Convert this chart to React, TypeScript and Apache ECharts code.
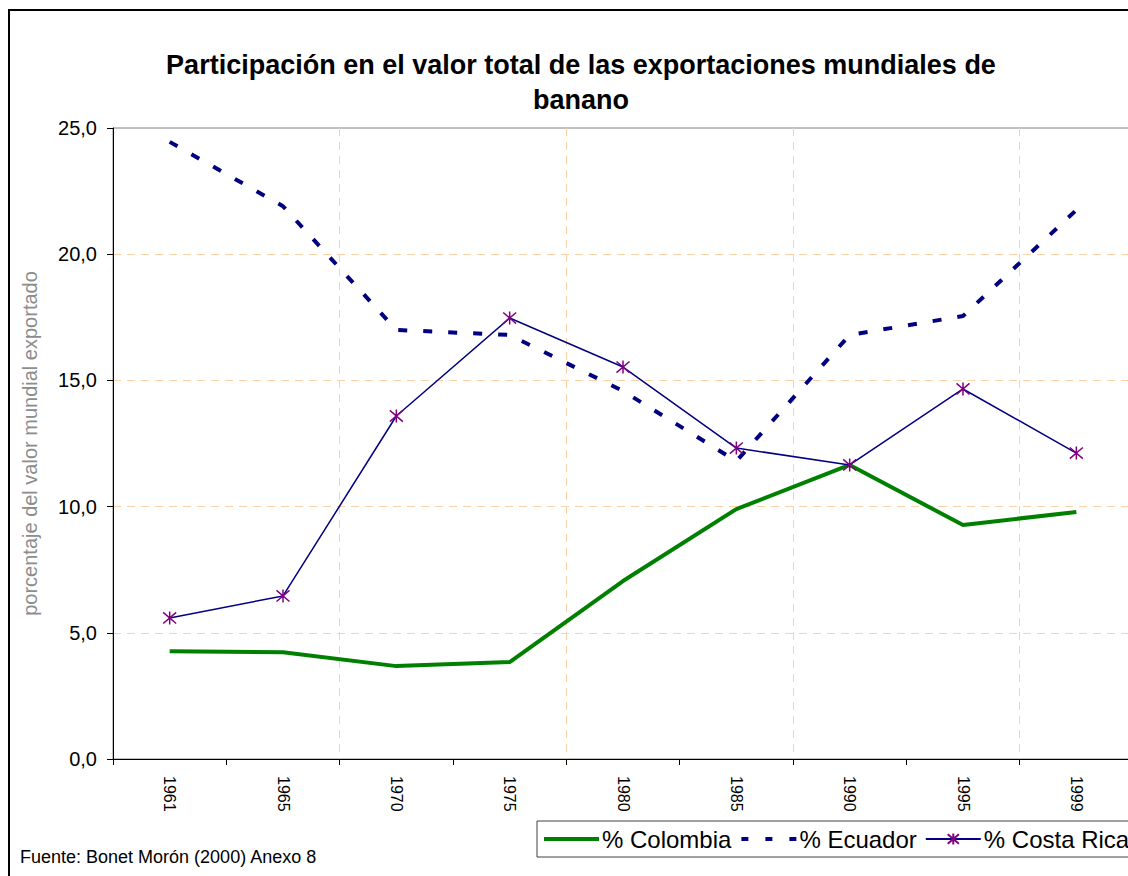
import React, { useEffect, useRef } from "react";
import * as echarts from "echarts";

const years = ["1961", "1965", "1970", "1975", "1980", "1985", "1990", "1995", "1999"];
const colombia = [4.27, 4.23, 3.68, 3.84, 7.05, 9.9, 11.65, 9.27, 9.79];
const ecuador = [24.45, 21.9, 17.0, 16.8, 14.58, 11.8, 16.8, 17.55, 21.75];
const costaRica = [5.59, 6.46, 13.59, 17.47, 15.53, 12.32, 11.65, 14.66, 12.12];
const yTicks = [0, 5, 10, 15, 20, 25];

const FONT = "Arial, 'Liberation Sans', Helvetica, sans-serif";
const STAR = "path://M0,-7L0,7M-6,-6L6,6M-6,6L6,-6";
const GRID_COLOR = "#FFD2A6";

export default function App() {
  const ref = useRef<HTMLDivElement>(null);
  useEffect(() => {
    if (!ref.current) return;
    const chart = echarts.init(ref.current, null, { renderer: "svg" });
    const hiddenSymbol = { color: "rgba(0,0,0,0)", borderWidth: 0, borderColor: "rgba(0,0,0,0)" };
    chart.setOption({
      animation: false,
      backgroundColor: "#ffffff",
      textStyle: { fontFamily: FONT },
      title: {
        text: "Participación en el valor total de las exportaciones mundiales de\nbanano",
        left: 576,
        textAlign: "center",
        top: 42,
        textStyle: { fontFamily: FONT, fontSize: 27, fontWeight: "bold", color: "#000", lineHeight: 35 },
      },
      graphic: [
        {
          type: "rect",
          shape: { x: 9, y: 10, width: 1300, height: 1000 },
          style: { fill: "none", stroke: "#000", lineWidth: 2 },
          silent: true,
        },
        {
          type: "text",
          left: 20,
          top: 848,
          style: { text: "Fuente: Bonet Morón (2000) Anexo 8", fontFamily: FONT, fontSize: 18, fill: "#000" },
        },
      ],
      legend: {
        left: 537,
        top: 821,
        orient: "horizontal",
        itemWidth: 55,
        itemHeight: 14,
        itemGap: 8,
        padding: [6, 4, 6, 5],
        borderColor: "#404040",
        borderWidth: 1,
        textStyle: { fontFamily: FONT, fontSize: 24, color: "#000", padding: [0, 0, 0, -2] },
        data: [
          { name: "% Colombia", itemStyle: hiddenSymbol, lineStyle: { width: 4, color: "#008000" } },
          { name: "% Ecuador", itemStyle: hiddenSymbol, lineStyle: { width: 4, color: "#000080", type: [7, 17] } },
          { name: "% Costa Rica" },
        ],
      },
      grid: {
        left: 113,
        top: 128,
        right: 17,
        bottom: 117,
        show: true,
        borderColor: "#808080",
        borderWidth: 1,
        containLabel: false,
      },
      xAxis: {
        type: "category",
        data: years,
        boundaryGap: true,
        axisLine: { lineStyle: { color: "#000", width: 1 } },
        axisTick: { show: true, interval: 0, length: 6, inside: false, lineStyle: { color: "#000" } },
        axisLabel: { interval: 0, rotate: -90, margin: 17, fontSize: 16, color: "#000", fontFamily: FONT },
        splitLine: { show: true, interval: 1, lineStyle: { color: GRID_COLOR, type: [8, 6], width: 1 } },
      },
      yAxis: {
        type: "value",
        min: yTicks[0],
        max: yTicks[yTicks.length - 1],
        interval: 5,
        name: "porcentaje del valor mundial exportado",
        nameLocation: "middle",
        nameRotate: 90,
        nameGap: 73,
        nameTextStyle: { fontFamily: FONT, fontSize: 20, color: "#8c8c8c" },
        axisLine: { show: true, lineStyle: { color: "#000", width: 1 } },
        axisTick: { show: true, length: 6, inside: false, lineStyle: { color: "#000" } },
        axisLabel: {
          margin: 16,
          fontSize: 20,
          color: "#000",
          fontFamily: FONT,
          formatter: (v: number) => v.toFixed(1).replace(".", ","),
        },
        splitLine: {
          show: true,
          lineStyle: {
            color: yTicks.map((_, i) => (i === yTicks.length - 1 ? "rgba(0,0,0,0)" : GRID_COLOR)),
            type: [8, 6],
            width: 1,
          },
        },
      },
      series: [
        {
          name: "% Colombia",
          type: "line",
          data: colombia,
          symbol: "none",
          lineStyle: { color: "#008000", width: 4 },
          itemStyle: { color: "#008000" },
        },
        {
          name: "% Ecuador",
          type: "line",
          data: ecuador,
          symbol: "none",
          lineStyle: { color: "#000080", width: 4, type: [9, 16], cap: "butt" },
          itemStyle: { color: "#000080" },
        },
        {
          name: "% Costa Rica",
          type: "line",
          data: costaRica,
          symbol: STAR,
          symbolSize: 13,
          showAllSymbol: true,
          lineStyle: { color: "#000080", width: 1.5 },
          itemStyle: { color: "none", borderColor: "#800080", borderWidth: 1.5 },
        },
      ],
    });
    return () => chart.dispose();
  }, []);
  return (
    <div style={{ position: "fixed", left: 0, top: 0, width: 1128, height: 876, overflow: "hidden", background: "#fff" }}>
      <div ref={ref} style={{ width: 1150, height: 876 }} />
    </div>
  );
}
